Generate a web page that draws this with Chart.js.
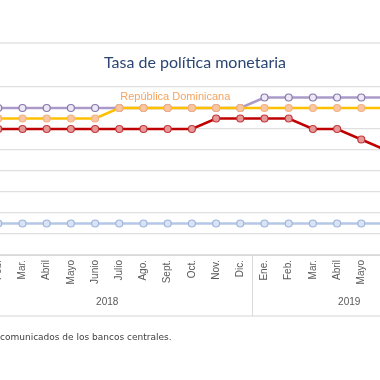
<!DOCTYPE html>
<html>
<head>
<meta charset="utf-8">
<script src="https://cdn.jsdelivr.net/npm/chart.js@4.4.1/dist/chart.umd.min.js"></script>
<style>
  html, body { margin: 0; padding: 0; background: #fff; width: 380px; height: 380px; overflow: hidden; }
  #wrap { position: absolute; left: -60px; top: 0; width: 520px; height: 380px; }
</style>
</head>
<body>
<div id="wrap"><canvas id="tpm" width="520" height="380"></canvas></div>
<script>
// months Ene 2018 .. Ago 2019
var months = ['Ene.', 'Feb.', 'Mar.', 'Abril', 'Mayo', 'Junio', 'Julio', 'Ago.', 'Sept.', 'Oct.', 'Nov.', 'Dic.',
              'Ene.', 'Feb.', 'Mar.', 'Abril', 'Mayo', 'Junio', 'Julio', 'Ago.'];
var years = ['2018', '2019'];
var monthsPerYear = [12, 8];

var honduras = [5.5, 5.5, 5.5, 5.5, 5.5, 5.5, 5.5, 5.5, 5.5, 5.5, 5.5, 5.5,
                5.75, 5.75, 5.75, 5.75, 5.75, 5.75, 5.75, 5.75];
var repDominicana = [5.25, 5.25, 5.25, 5.25, 5.25, 5.25, 5.5, 5.5, 5.5, 5.5, 5.5, 5.5,
                     5.5, 5.5, 5.5, 5.5, 5.5, 5.5, 5.0, 4.5];
var costaRica = [4.75, 5.0, 5.0, 5.0, 5.0, 5.0, 5.0, 5.0, 5.0, 5.0, 5.25, 5.25,
                 5.25, 5.25, 5.0, 5.0, 4.75, 4.5, 4.5, 4.0];
var guatemala = [2.75, 2.75, 2.75, 2.75, 2.75, 2.75, 2.75, 2.75, 2.75, 2.75, 2.75, 2.75,
                 2.75, 2.75, 2.75, 2.75, 2.75, 2.75, 2.75, 2.75];

var yMin = 2, yMax = 6, yStep = 0.5;

function serie(label, data, line, fill, border, order) {
    return {
        label: label,
        data: data,
        borderColor: line,
        borderWidth: 2.5,
        pointRadius: 3.5,
        pointBackgroundColor: fill,
        pointBorderColor: border,
        pointBorderWidth: 1.2,
        tension: 0,
        order: order
    };
}

// extra drawing: title, borders, years row, source, series label
var extras = {
    id: 'extras',
    afterDraw: function(chart) {
        var ctx = chart.ctx;
        var x = chart.scales.x, y = chart.scales.y;
        var area = chart.chartArea;
        var off = 60; // canvas is shifted left by 60px
        ctx.save();

        ctx.strokeStyle = '#e3e3e3';
        ctx.lineWidth = 1.5;
        ctx.beginPath();
        ctx.moveTo(0, 43); ctx.lineTo(chart.width, 43);
        ctx.moveTo(0, 316); ctx.lineTo(chart.width, 316);
        ctx.stroke();

        ctx.fillStyle = '#2b4673';
        ctx.font = '16px Lato';
        ctx.textAlign = 'center';
        ctx.textBaseline = 'middle';
        ctx.fillText('Tasa de política monetaria', 195 + off, 63);

        // years row
        var band = x.getPixelForValue(1) - x.getPixelForValue(0);
        var start = 0;
        ctx.font = '10px "Liberation Sans"';
        ctx.fillStyle = '#595959';
        ctx.strokeStyle = '#d9d9d9';
        ctx.lineWidth = 1;
        for (var i = 0; i < years.length; i++) {
            var left = x.getPixelForValue(start) - band / 2;
            var right = x.getPixelForValue(start + monthsPerYear[i] - 1) + band / 2;
            ctx.fillText(years[i], (left + right) / 2, 302);
            ctx.beginPath();
            ctx.moveTo(Math.round(right) + 0.5, area.bottom);
            ctx.lineTo(Math.round(right) + 0.5, 316);
            ctx.moveTo(Math.round(left) + 0.5, area.bottom);
            ctx.lineTo(Math.round(left) + 0.5, 316);
            ctx.stroke();
            start += monthsPerYear[i];
        }

        // series label
        ctx.fillStyle = '#f4a460';
        ctx.font = '11px "Liberation Sans"';
        ctx.textAlign = 'left';
        ctx.fillText('República Dominicana', x.getPixelForValue(6) + 1, y.getPixelForValue(5.5) - 11);

        // source
        ctx.fillStyle = '#404040';
        ctx.font = '9px "DejaVu Sans"';
        ctx.fillText('comunicados de los bancos centrales.', off, 338);
        ctx.restore();
    }
};

new Chart(document.getElementById('tpm'), {
    type: 'line',
    data: {
        labels: months,
        datasets: [
            serie('República Dominicana', repDominicana, '#ffc000', '#f8c6a0', '#f4b183', 1),
            serie('Costa Rica', costaRica, '#c00000', '#e59a9a', '#c4383c', 2),
            serie('Guatemala', guatemala, '#b4c7e7', '#dae3f3', '#9fb6de', 3),
            serie('Honduras', honduras, '#ab9ac9', '#ece8f4', '#8a78ad', 4)
        ]
    },
    options: {
        responsive: false,
        animation: false,
        layout: { padding: { top: 87, left: 22, right: 14, bottom: 0 } },
        plugins: { legend: { display: false }, tooltip: { enabled: false }, title: { display: false } },
        scales: {
            x: {
                offset: true,
                grid: { display: false, drawTicks: false },
                border: { display: true, color: '#d9d9d9', width: 1 },
                ticks: {
                    minRotation: 90, maxRotation: 90, autoSkip: false, padding: 5,
                    color: '#595959', font: { family: 'Liberation Sans', size: 10 }
                },
                afterFit: function(s) { s.height = 125; }
            },
            y: {
                min: yMin, max: yMax,
                ticks: { display: false, stepSize: yStep },
                grid: { color: '#e0e0e0', lineWidth: 1.2, drawTicks: false },
                border: { display: false },
                afterFit: function(s) { s.width = 0; }
            }
        }
    },
    plugins: [extras]
});
</script>
</body>
</html>
